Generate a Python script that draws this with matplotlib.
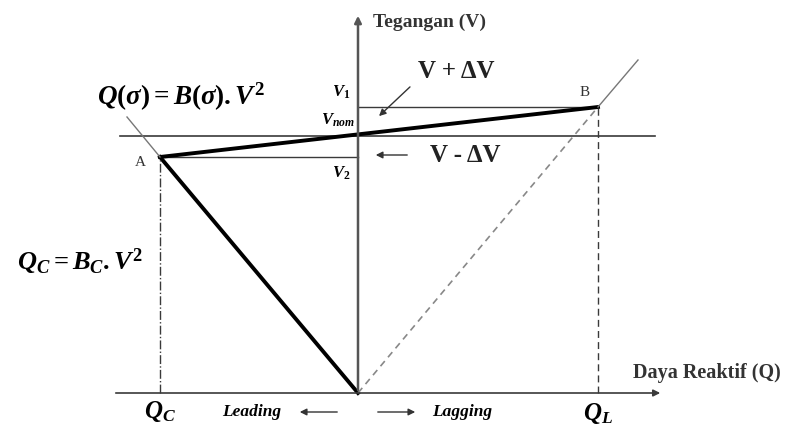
import matplotlib.pyplot as plt

plt.rcParams['mathtext.fontset'] = 'custom'
plt.rcParams['mathtext.it'] = 'Liberation Serif:bold:italic'
plt.rcParams['mathtext.rm'] = 'Liberation Serif:bold'
plt.rcParams['mathtext.bf'] = 'Liberation Serif:bold'

# titik-titik karakteristik (Q terhadap V)
Q_C = -198
Q_L = 240
V_nom = 257
V_1 = 286
V_2 = 236
A = (Q_C, V_2)
B = (Q_L, V_1)
asal = (0, 0)
ujung_A = (-231, 276)
ujung_B = (280, 333)

fig = plt.figure(figsize=(7.91, 4.29), dpi=100)
ax = fig.add_axes([0, 0, 1, 1])
ax.set_xlim(-358, 433)
ax.set_ylim(-36, 393)
ax.axis('off')

serif = 'Liberation Serif'
garis = '#3a3a3a'

# sumbu
ax.annotate('', xy=(305, 0), xytext=(-245, 0),
            arrowprops=dict(arrowstyle='-|>', color=garis, lw=1.2, mutation_scale=10))
ax.annotate('', xy=(0, 380), xytext=(0, 0),
            arrowprops=dict(arrowstyle='-|>', color='#555555', lw=1.8, mutation_scale=10))

# garis tegangan
ax.plot([-238, 297], [V_nom, V_nom], color=garis, lw=1.2)
ax.plot([0, B[0]], [V_1, V_1], color=garis, lw=1.0)
ax.plot([A[0], 0], [V_2, V_2], color=garis, lw=1.0)

# karakteristik
ax.plot([A[0], B[0]], [A[1], B[1]], color='black', lw=2.8)
ax.plot([A[0], asal[0]], [A[1], asal[1]], color='black', lw=2.8)
ax.plot([asal[0], B[0]], [asal[1], B[1]], color='#888888', lw=1.2, ls=(0, (4, 3)))
ax.plot([B[0], ujung_B[0]], [B[1], ujung_B[1]], color='#777777', lw=1.0)
ax.plot([A[0], ujung_A[0]], [A[1], ujung_A[1]], color='#777777', lw=1.0)

# proyeksi ke sumbu Q
ax.plot([Q_C, Q_C], [0, V_2], color=garis, lw=1.0, ls='-.')
ax.plot([Q_L, Q_L], [0, V_1], color=garis, lw=1.0, ls=(0, (5, 3)))

# label
ax.text(15, 371, 'Tegangan (V)', family=serif, weight='bold', fontsize=14, color='#333333', va='center')
ax.text(275, 20, 'Daya Reaktif (Q)', family=serif, weight='bold', fontsize=14.5, color='#333333', va='center')
ax.text(-261, 296, r'$Q(\sigma) = B(\sigma).V^2$', fontsize=19.5, va='center')
ax.text(-341, 131, r'$Q_C = B_C.V^2$', fontsize=19, va='center')
ax.text(Q_C, -18, r'$Q_C$', fontsize=18, ha='center', va='center')
ax.text(Q_L, -21, r'$Q_L$', fontsize=18, ha='center', va='center')
ax.text(-8, 301, r'$V_1$', fontsize=12, ha='right', va='center')
ax.text(-3, 273, r'$V_{nom}$', fontsize=12, ha='right', va='center')
ax.text(-8, 220, r'$V_2$', fontsize=12, ha='right', va='center')
ax.text(-218, 231, 'A', family=serif, fontsize=11, ha='center', va='center', color='#333333')
ax.text(227, 300, 'B', family=serif, fontsize=11, ha='center', va='center', color='#333333')
ax.text(60, 321, 'V + ΔV', family=serif, weight='bold', fontsize=18, va='center', color='#222222')
ax.text(72, 238, 'V - ΔV', family=serif, weight='bold', fontsize=18, va='center', color='#222222')
ax.text(-136, -19, 'Leading', family=serif, weight='bold', style='italic', fontsize=12.5, va='center')
ax.text(74, -19, 'Lagging', family=serif, weight='bold', style='italic', fontsize=12.5, va='center')

# panah keterangan
ax.annotate('', xy=(19, 275), xytext=(54, 308),
            arrowprops=dict(arrowstyle='-|>', color='#333333', lw=1.0, mutation_scale=10))
ax.annotate('', xy=(15, 238), xytext=(52, 238),
            arrowprops=dict(arrowstyle='-|>', color='#333333', lw=1.0, mutation_scale=10))
ax.annotate('', xy=(-61, -19), xytext=(-18, -19),
            arrowprops=dict(arrowstyle='-|>', color='#333333', lw=1.0, mutation_scale=10))
ax.annotate('', xy=(60, -19), xytext=(17, -19),
            arrowprops=dict(arrowstyle='-|>', color='#333333', lw=1.0, mutation_scale=10))

fig.savefig('out.png', dpi=100)
